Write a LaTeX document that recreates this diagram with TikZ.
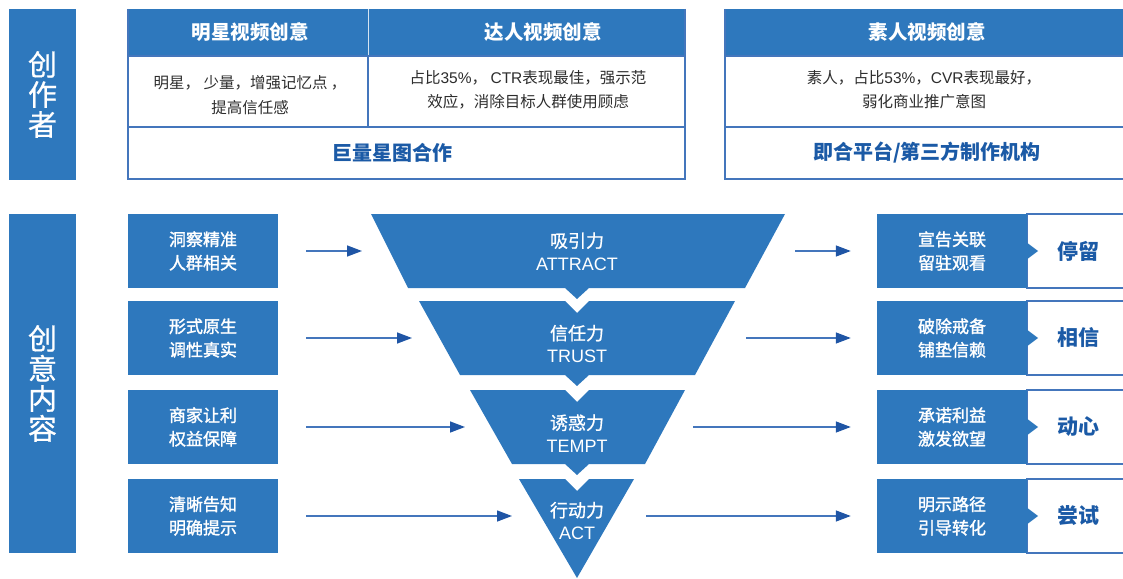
\documentclass[tikz,border=0pt]{standalone}
\usepackage{fontspec}
\setmainfont{Noto Sans CJK SC}
\newfontfamily\lat{Liberation Sans}
\newfontfamily\medf[FakeBold=1.6]{Noto Sans CJK SC}
\newfontfamily\semf[FakeBold=0.8]{Noto Sans CJK SC}
\usetikzlibrary{arrows.meta}
\definecolor{mblue}{RGB}{46,120,189}
\definecolor{dblue}{RGB}{27,90,166}
\definecolor{lineblue}{RGB}{68,118,188}
\definecolor{tipblue}{RGB}{31,85,165}
\definecolor{txtgray}{RGB}{45,45,45}
\begin{document}
\begin{tikzpicture}[x=1pt,y=-1pt,
  bar/.style={fill=mblue,text=white,inner sep=0pt,minimum width=67pt,align=center,font=\fontsize{29}{30}\selectfont\semf},
  hdr/.style={text=white,inner sep=0pt,font=\fontsize{19.5}{22}\selectfont\bfseries},
  mid/.style={text=txtgray,inner sep=0pt,align=center,font=\fontsize{15.5}{24.5}\selectfont},
  bot/.style={text=dblue,inner sep=0pt,font=\fontsize{20}{22}\selectfont\bfseries},
  cell/.style={draw=lineblue,line width=1.3pt,fill=white},
  hcell/.style={fill=mblue},
  sidebox/.style={fill=mblue,text=white,inner sep=0pt,minimum width=150pt,minimum height=74pt,align=center,font=\fontsize{17}{23.5}\selectfont\medf},
  funtxt/.style={text=white,inner sep=0pt,align=center,font=\fontsize{18}{23}\selectfont\semf},
  lbl/.style={text=dblue,inner sep=0pt,font=\fontsize{21}{22}\selectfont\bfseries},
  funnel/.style={fill=mblue},
  arr/.style={draw=lineblue,line width=1.4pt,-{Triangle[length=15pt,width=11pt,color=tipblue]}}
]
\useasboundingbox (0,0) rectangle (1123,578);

% left bars
\node[bar,minimum height=171pt] (bar1) at (42.5,94.5) {创\\作\\者};
\node[bar,minimum height=339pt] (bar2) at (42.5,383.5) {创\\意\\内\\容};

% table 1
\fill[hcell] (128,9) rectangle (685,56);
\draw[white!80!mblue,line width=1pt] (368,9) -- (368,56);
\draw[cell] (128,56) rectangle (368,127);
\draw[cell] (368,56) rectangle (685,127);
\draw[cell] (128,127) rectangle (685,179);
\draw[draw=lineblue,line width=1.3pt] (128,9) -- (128,179) (685,9) -- (685,179);
\node[hdr] (h1) at (250,32) {明星视频创意};
\node[hdr] (h2) at (543,32) {达人视频创意};
\node[mid] (m1) at (250,95) {明星， 少量，增强记忆点 ，\\提高信任感};
\node[mid] (m2) at (528,90) {占比{\lat 35\%}， {\lat CTR}表现最佳，强示范\\效应，消除目标人群使用顾虑};
\node[bot] (b1) at (392.5,153) {巨量星图合作};

% table 2
\fill[hcell] (725,9) rectangle (1130,56);
\draw[cell] (725,56) rectangle (1130,127);
\draw[cell] (725,127) rectangle (1130,179);
\draw[draw=lineblue,line width=1.3pt] (725,9) -- (725,179);
\node[hdr] (h3) at (927,32) {素人视频创意};
\node[mid] (m3) at (924,89.5) {素人，占比{\lat 53\%}，{\lat CVR}表现最好，\\弱化商业推广意图};
\node[bot] (b2) at (927,153) {即合平台/第三方制作机构};

% left boxes
\node[sidebox] (lb1) at (203,251) {洞察精准\\人群相关};
\node[sidebox] (lb2) at (203,338) {形式原生\\调性真实};
\node[sidebox] (lb3) at (203,427) {商家让利\\权益保障};
\node[sidebox] (lb4) at (203,516) {清晰告知\\明确提示};

% right white boxes
\foreach \y in {251,338,427,516}{
  \draw[cell,line width=1.1pt] (1027,\y-37) rectangle (1130,\y+37);
}
% right blue boxes
\node[sidebox] (rb1) at (952,251) {宣告关联\\留驻观看};
\node[sidebox] (rb2) at (952,338) {破除戒备\\铺垫信赖};
\node[sidebox] (rb3) at (952,427) {承诺利益\\激发欲望};
\node[sidebox] (rb4) at (952,516) {明示路径\\引导转化};
\foreach \y in {251,338,427,516}{
  \fill[mblue] (1026,\y-9) -- (1038,\y) -- (1026,\y+9) -- cycle;
}
\node[lbl] (r1) at (1078,251) {停留};
\node[lbl] (r2) at (1078,338) {相信};
\node[lbl] (r3) at (1078,427) {动心};
\node[lbl] (r4) at (1078,516) {尝试};

% funnel
\fill[funnel] (371,214) -- (785,214) -- (745,288) -- (589,288) -- (577,299) -- (565,288) -- (408,288) -- cycle;
\fill[funnel] (419,301) -- (565,301) -- (577,313) -- (589,301) -- (735,301) -- (695,375) -- (589,375) -- (577,386) -- (565,375) -- (460,375) -- cycle;
\fill[funnel] (470,390) -- (565,390) -- (577,402) -- (589,390) -- (685,390) -- (645,464) -- (589,464) -- (577,475) -- (565,464) -- (512,464) -- cycle;
\fill[funnel] (519,479) -- (565,479) -- (577,491) -- (589,479) -- (634,479) -- (577,578) -- cycle;
\node[funtxt] (f1) at (577,251.5) {吸引力\\{\lat ATTRACT}};
\node[funtxt] (f2) at (577,344) {信任力\\{\lat TRUST}};
\node[funtxt] (f3) at (577,433.5) {诱惑力\\{\lat TEMPT}};
\node[funtxt] (f4) at (577,521) {行动力\\{\lat ACT}};

% funnel side coordinates
\coordinate (in1) at (362,251);
\coordinate (in2) at (412,338);
\coordinate (in3) at (465,427);
\coordinate (in4) at (512,516);
\coordinate (out1) at (795,251);
\coordinate (out2) at (746,338);
\coordinate (out3) at (693,427);
\coordinate (out4) at (646,516);

\foreach \i in {1,2,3,4}{
  \draw[arr,shorten <=28pt] (lb\i.east) -- (in\i);
  \draw[arr,shorten >=26pt] (out\i) -- (rb\i.west);
}
\end{tikzpicture}
\end{document}
